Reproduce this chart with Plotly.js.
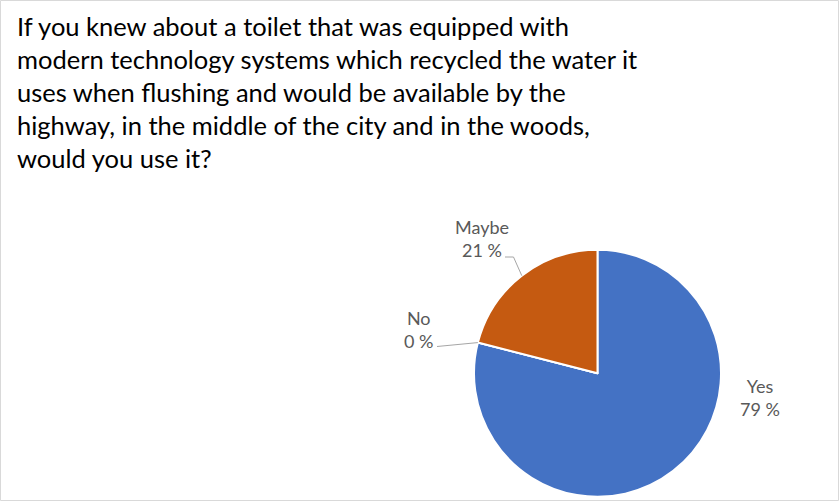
<!DOCTYPE html>
<html>
<head>
<meta charset="utf-8">
<script src="https://cdn.plot.ly/plotly-3.0.1.min.js"></script>
<style>html,body{margin:0;padding:0;background:#fff;}#chart{width:839px;height:501px;}</style>
</head>
<body>
<div id="chart"></div>
<script>
const categories = ["Yes", "No", "Maybe"];
const values = [79, 0, 21];
const valueLabels = ["79 %", "0 %", "21 %"];
const colors = ["#4472C4", "#A5A5A5", "#C55A11"];
const titleLines = [
  "If you knew about a toilet that was equipped with",
  "modern technology systems which recycled the water it",
  "uses when flushing and would be available by the",
  "highway, in the middle of the city and in the woods,",
  "would you use it?"
];

const W = 839, H = 501;
const cx = 597.5, cy = 373.3, R = 123.5;
const dom = {
  x: [(cx - R) / W, (cx + R) / W],
  y: [(H - cy - R) / H, (H - cy + R) / H]
};

// label anchor positions (pixels) and leader elbows
const labelPos = {
  "Yes":   {x: 760, y: 397, line: null},
  "No":    {x: 418, y: 329, line: [[437, 346.5]]},
  "Maybe": {x: 482, y: 239, line: [[513.5, 257], [505, 257]]}
};

const total = values.reduce((a, b) => a + b, 0);
const annotations = [];
const shapes = [];
let cum = 0;
categories.forEach((c, i) => {
  const mid = (cum + values[i] / 2) / total * 2 * Math.PI;
  cum += values[i];
  const px = cx + R * Math.sin(mid);
  const py = cy - R * Math.cos(mid);
  const lp = labelPos[c];
  annotations.push({
    xref: "paper", yref: "paper",
    x: lp.x / W, y: 1 - lp.y / H,
    xanchor: "center", yanchor: "middle",
    text: c + "<br>" + valueLabels[i],
    showarrow: false,
    align: "center",
    font: {family: "Lato, 'Open Sans', sans-serif", size: 18, color: "#595959"}
  });
  if (lp.line) {
    let path = "M" + px + "," + py;
    lp.line.forEach(p => { path += " L" + p[0] + "," + p[1]; });
    shapes.push({
      type: "path", xref: "paper", yref: "paper",
      path: path.replace(/([\d.]+),([\d.]+)/g, (m, a, b) => (a / W) + "," + (1 - b / H)),
      line: {color: "#A6A6A6", width: 1}
    });
  }
});

// title lines
titleLines.forEach((t, k) => {
  annotations.push({
    xref: "paper", yref: "paper",
    x: 15 / W, y: 1 - (26 + 33 * k) / H,
    xanchor: "left", yanchor: "middle",
    text: t, showarrow: false, align: "left",
    font: {family: "Lato, 'Open Sans', sans-serif", size: 25.5, color: "#000000"}
  });
});

shapes.push({
  type: "rect", xref: "paper", yref: "paper",
  x0: 0.5 / W, x1: 1 - 0.5 / W, y0: 0.5 / H, y1: 1 - 0.5 / H,
  line: {color: "#D9D9D9", width: 1}
});

const trace = {
  type: "pie",
  labels: categories,
  values: values,
  sort: false,
  direction: "clockwise",
  rotation: 0,
  textinfo: "none",
  hoverinfo: "label+percent",
  marker: {colors: colors, line: {color: "#FFFFFF", width: 2}},
  domain: dom,
  showlegend: false
};

const layout = {
  width: W, height: H,
  margin: {l: 0, r: 0, t: 0, b: 0},
  paper_bgcolor: "#FFFFFF",
  showlegend: false,
  annotations: annotations,
  shapes: shapes
};

Plotly.newPlot("chart", [trace], layout, {displayModeBar: false, staticPlot: true});
</script>
</body>
</html>
